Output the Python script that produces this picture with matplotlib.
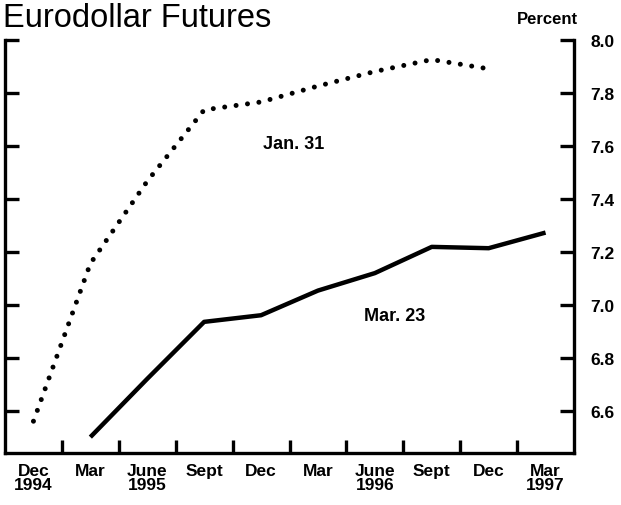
import matplotlib
matplotlib.use('Agg')
import matplotlib.pyplot as plt
import numpy as np

plt.rcParams['font.family'] = ['Liberation Sans', 'DejaVu Sans']

# quarters, Dec 1994 .. Mar 1997
quarters = ['Dec\n1994', 'Mar', 'June\n1995', 'Sept', 'Dec', 'Mar',
            'June\n1996', 'Sept', 'Dec', 'Mar\n1997']
# Jan. 31 curve: Dec 1994 .. Dec 1996 contracts
jan31 = [6.56, 7.155, 7.466, 7.735, 7.765, 7.825, 7.88, 7.925, 7.89]
# Mar. 23 curve: Mar 1995 .. Mar 1997 contracts
mar23 = [6.50, 6.72, 6.935, 6.96, 7.053, 7.119, 7.218, 7.213, 7.272]
yticks = [6.6, 6.8, 7.0, 7.2, 7.4, 7.6, 7.8, 8.0]

centers = np.arange(len(quarters)) + 0.5

fig = plt.figure(figsize=(6.21, 5.06), dpi=100)
ax = fig.add_axes([5 / 621, 52 / 506, 569 / 621, 413.3 / 506])

ax.plot(centers[:len(jan31)], jan31, color='black', lw=3.6,
        linestyle=(0, (0.001, 2.3)), dash_capstyle='round')
ax.plot(centers[1:1 + len(mar23)], mar23, color='black', lw=3.2,
        solid_capstyle='butt', solid_joinstyle='round')

ax.set_xlim(0, len(quarters))
ax.set_ylim(6.44, 8.0)

for s in ['left', 'right', 'bottom']:
    ax.spines[s].set_linewidth(2.4)
ax.spines['top'].set_visible(False)

# y ticks on both sides, label on right
ax.set_yticks(yticks)
ax.set_yticklabels([f'{v:.1f}' for v in yticks], fontweight='bold')
ax.set_yticks([8.0], minor=True)
ax.yaxis.set_ticks_position('both')
ax.tick_params(axis='y', which='major', direction='in', length=10, width=2.4,
               left=True, right=True, labelleft=False, labelright=True,
               pad=12, labelsize=12.5)
ax.tick_params(axis='y', which='minor', direction='in', length=19, width=2.4,
               left=True, right=True)

# x ticks at quarter boundaries, labels at centers
ax.set_xticks(np.arange(1, len(quarters)))
ax.set_xticklabels([])
ax.set_xticks(centers, minor=True)
ax.set_xticklabels(quarters, minor=True, fontweight='bold')
ax.tick_params(axis='x', which='major', direction='in', length=9.5, width=2.4)
ax.tick_params(axis='x', which='minor', length=0, pad=7, labelsize=12.5)
for t in ax.get_xticklabels(minor=True):
    t.set_linespacing(0.95)

ax.text(5.08, 7.61, 'Jan. 31', ha='center', va='center', fontsize=13,
        fontweight='bold')
ax.text(6.85, 6.96, 'Mar. 23', ha='center', va='center', fontsize=13,
        fontweight='bold')

fig.text(3 / 621, 1 - 3 / 506, 'Eurodollar Futures', ha='left', va='top',
         fontsize=23.5)
fig.text(578 / 621, 1 - 19 / 506, 'Percent', ha='right', va='center',
         fontsize=12, fontweight='bold')

fig.savefig('out.png', dpi=100)
